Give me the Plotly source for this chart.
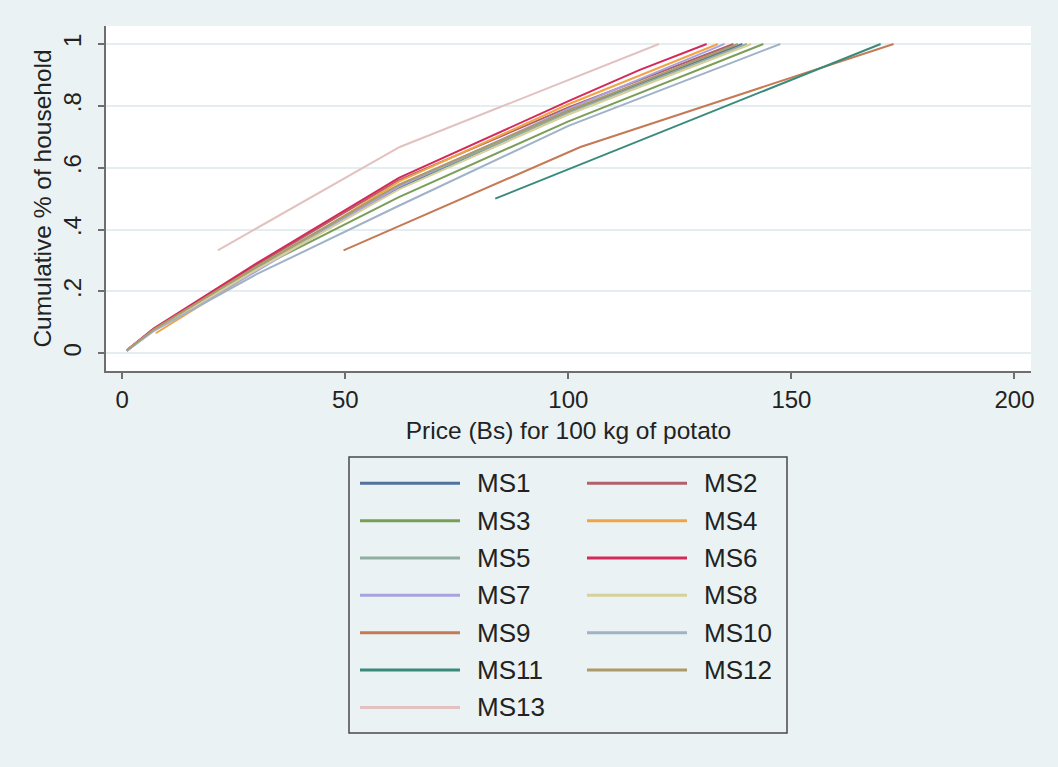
import plotly.graph_objects as go

# ---------------- data ----------------
series_names = ["MS1", "MS2", "MS3", "MS4", "MS5", "MS6", "MS7",
                "MS8", "MS9", "MS10", "MS11", "MS12", "MS13"]

ms1_x = [1, 7, 30, 62, 100, 139]
ms1_y = [0.008, 0.076, 0.275, 0.535, 0.78, 1.0]
ms2_x = [1, 7, 30, 62, 100, 137]
ms2_y = [0.01, 0.078, 0.285, 0.56, 0.795, 1.0]
ms3_x = [1, 7, 30, 62, 100, 143.7]
ms3_y = [0.01, 0.076, 0.272, 0.505, 0.75, 1.0]
ms4_x = [7.5, 30, 62, 100, 133.5]
ms4_y = [0.065, 0.268, 0.555, 0.805, 1.0]
ms5_x = [1, 7, 30, 62, 100, 140]
ms5_y = [0.01, 0.077, 0.278, 0.54, 0.778, 1.0]
ms6_x = [1, 7, 30, 62, 100, 116, 131]
ms6_y = [0.01, 0.08, 0.29, 0.567, 0.815, 0.916, 1.0]
ms7_x = [1, 7, 30, 62, 100, 135]
ms7_y = [0.01, 0.075, 0.265, 0.54, 0.79, 1.0]
ms8_x = [1, 7, 30, 62, 100, 141]
ms8_y = [0.01, 0.074, 0.27, 0.53, 0.772, 1.0]
ms9_x = [49.6, 102.7, 172.9]
ms9_y = [0.333, 0.667, 1.0]
ms10_x = [1, 7, 30, 62, 100, 147.5]
ms10_y = [0.008, 0.072, 0.255, 0.477, 0.735, 1.0]
ms11_x = [83.6, 170]
ms11_y = [0.5, 1.0]
ms12_x = [1, 7, 30, 62, 100, 138]
ms12_y = [0.01, 0.077, 0.28, 0.545, 0.785, 1.0]
ms13_x = [21.4, 62.2, 120.3]
ms13_y = [0.333, 0.667, 1.0]

series_x = [ms1_x, ms2_x, ms3_x, ms4_x, ms5_x, ms6_x, ms7_x,
            ms8_x, ms9_x, ms10_x, ms11_x, ms12_x, ms13_x]
series_y = [ms1_y, ms2_y, ms3_y, ms4_y, ms5_y, ms6_y, ms7_y,
            ms8_y, ms9_y, ms10_y, ms11_y, ms12_y, ms13_y]

x_ticks = [0, 50, 100, 150, 200]
y_ticks = [0, 0.2, 0.4, 0.6, 0.8, 1.0]
y_tick_labels = ["0", ".2", ".4", ".6", ".8", "1"]

x_title = "Price (Bs) for 100 kg of potato"
y_title = "Cumulative % of household"

# ---------------- styling ----------------
colors = ["#50729e", "#b0606a", "#7a9e58", "#f2a444", "#90aea2", "#d42a5a",
          "#a9a2e2", "#d6d09a", "#c47a55", "#9fb2c8", "#3a8a7c", "#ac9a6a",
          "#e2c2c0"]

BG = "#eaf2f3"
FONT = "Liberation Sans, Arial, Helvetica, sans-serif"
W, H = 1058, 767
L, R, T, B = 106, 27, 26, 396
PW, PH = W - L - R, H - T - B


def px(xp):
    return (xp - L) / PW


def py(yp):
    return (H - B - yp) / PH


fig = go.Figure()
for name, xs, ys, c in zip(series_names, series_x, series_y, colors):
    fig.add_trace(go.Scatter(x=xs, y=ys, mode="lines", name=name,
                             line=dict(color=c, width=2),
                             showlegend=False))

# ---------------- manual legend (two columns) ----------------
shapes = [dict(type="rect", xref="paper", yref="paper",
               x0=px(349), x1=px(787), y0=py(733), y1=py(457),
               line=dict(color="#4a4a4a", width=1.5), fillcolor=BG,
               layer="below")]
annotations = []
row_y0, row_dy = 483.3, 37.35
for i, (name, c) in enumerate(zip(series_names, colors)):
    col, row = i % 2, i // 2
    lx0 = 360 if col == 0 else 587
    tx = 475 if col == 0 else 702
    yy = row_y0 + row * row_dy
    shapes.append(dict(type="line", xref="paper", yref="paper",
                       x0=px(lx0), x1=px(lx0 + 100), y0=py(yy), y1=py(yy),
                       line=dict(color=c, width=3)))
    annotations.append(dict(xref="paper", yref="paper", x=px(tx), y=py(yy),
                            text=name, showarrow=False, xanchor="left",
                            yanchor="middle",
                            font=dict(family=FONT, size=26, color="#222222")))

fig.update_layout(
    width=W, height=H,
    margin=dict(l=L, r=R, t=T, b=B, pad=0),
    paper_bgcolor=BG, plot_bgcolor="white",
    font=dict(family=FONT, size=24, color="#222222"),
    shapes=shapes, annotations=annotations,
    xaxis=dict(range=[-3.65, 203.7], tickvals=x_ticks,
               showgrid=False, zeroline=False,
               showline=True, linecolor="#6e6e6e", linewidth=1.5,
               ticks="outside", ticklen=6, tickwidth=1.5, tickcolor="#6e6e6e",
               tickfont=dict(size=24),
               title=dict(text=x_title, font=dict(size=24.5), standoff=10)),
    yaxis=dict(range=[-0.057, 1.058], tickvals=y_ticks, ticktext=y_tick_labels,
               tickangle=-90, ticklabelstandoff=8,
               showgrid=True, gridcolor="#e4eef0", gridwidth=1.5,
               zeroline=False,
               showline=True, linecolor="#6e6e6e", linewidth=1.5,
               ticks="outside", ticklen=6, tickwidth=1.5, tickcolor="#6e6e6e",
               tickfont=dict(size=24),
               title=dict(text=y_title, font=dict(size=24.5), standoff=0)),
)

fig.write_html("out.html",
               config={"displayModeBar": False},
               post_script="document.body.style.margin='0';"
                           "document.body.style.background='%s';" % BG)
